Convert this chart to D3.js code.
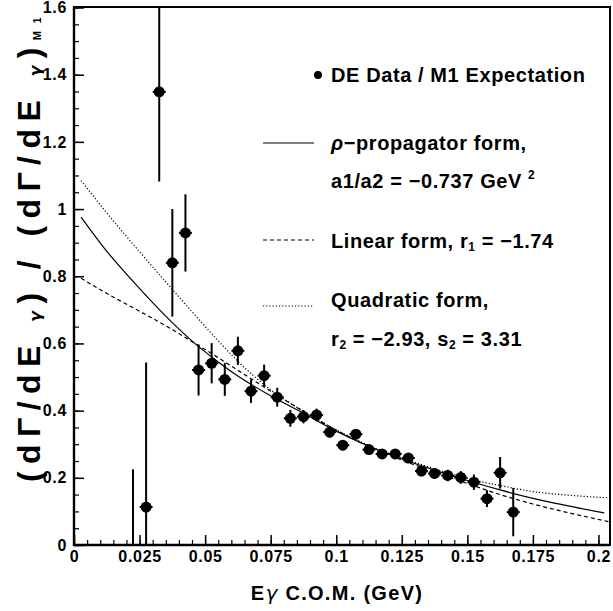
<!DOCTYPE html>
<html><head><meta charset="utf-8">
<script src="https://cdn.jsdelivr.net/npm/d3@7"></script>
<style>body{margin:0;background:#fff}svg{display:block}</style>
</head><body>
<svg id="c" width="613" height="611"></svg>
<script>
// ---- data ----
const binCenters = [0.0225,0.0275,0.0325,0.0375,0.0425,0.0475,0.0525,0.0575,0.0625,0.0675,
  0.0725,0.0775,0.0825,0.0875,0.0925,0.0975,0.1025,0.1075,0.1125,0.1175,
  0.1225,0.1275,0.1325,0.1375,0.1425,0.1475,0.1525,0.1575,0.1625,0.1675];
const ratio = [-0.05,0.113,1.349,0.840,0.929,0.521,0.541,0.493,0.578,0.458,
  0.504,0.440,0.377,0.382,0.387,0.336,0.297,0.330,0.284,0.271,
  0.271,0.259,0.220,0.213,0.207,0.201,0.187,0.138,0.215,0.098];
const ratioErr = [0.275,0.430,0.267,0.160,0.115,0.076,0.060,0.049,0.042,0.035,
  0.033,0.028,0.025,0.020,0.019,0.016,0.015,0.015,0.014,0.013,
  0.014,0.015,0.015,0.016,0.017,0.019,0.023,0.025,0.047,0.072];

const rhoX = [0.0027,0.0113,0.024,0.0367,0.0455,0.0545,0.0625,0.075,0.0875,0.1,0.1125,0.125,0.1375,0.15,0.1625,0.175,0.1875,0.2022];
const rhoY = [0.976,0.886,0.772,0.668,0.604,0.548,0.503,0.444,0.392,0.339,0.294,0.256,0.223,0.192,0.164,0.139,0.118,0.0954];
const linX = [0.0027,0.0113,0.024,0.0367,0.0455,0.0545,0.0625,0.075,0.0875,0.1,0.1125,0.125,0.1375,0.15,0.1625,0.175,0.1875,0.2044];
const linY = [0.794,0.754,0.700,0.645,0.603,0.560,0.520,0.458,0.398,0.342,0.293,0.253,0.217,0.183,0.150,0.122,0.098,0.0686];
const quadX = [0.0027,0.0113,0.024,0.0367,0.0455,0.0545,0.0625,0.075,0.0875,0.1,0.1125,0.125,0.1375,0.15,0.1625,0.175,0.1875,0.2044];
const quadY = [1.085,1.000,0.882,0.768,0.690,0.612,0.547,0.462,0.398,0.343,0.296,0.259,0.227,0.198,0.177,0.159,0.149,0.140];

const xTickLabels = ["0","0.025","0.05","0.075","0.1","0.125","0.15","0.175","0.2"];
const yTickLabels = ["0","0.2","0.4","0.6","0.8","1","1.2","1.4","1.6"];

// ---- drawing ----
const svg = d3.select("#c");
const FONT = "'Liberation Sans', Arial, sans-serif";
const GREEK = "'DejaVu Sans', sans-serif";
const L = 74, R = 610, T = 7.5, B = 545;
const x = d3.scaleLinear().domain([0, 0.2044]).range([L, R]);
const y = d3.scaleLinear().domain([0, 1.6]).range([B, T]);

svg.append("defs").append("clipPath").attr("id","plot")
  .append("rect").attr("x",L).attr("y",T-0.5).attr("width",R-L).attr("height",B-T+0.5);

// frame
svg.append("rect").attr("x",L).attr("y",7).attr("width",R-L).attr("height",B-7)
  .attr("fill","none").attr("stroke","#000").attr("stroke-width",2);

// axes with inward ticks
const xMinor = d3.range(0, 0.2044, 0.005);
const yMinor = d3.range(0, 1.6001, 0.05);
const xMajor = xTickLabels.map(Number);
const yMajor = yTickLabels.map(Number);

const gx = svg.append("g").attr("transform",`translate(0,${B})`);
gx.call(d3.axisBottom(x).tickValues(xMinor).tickSize(-5).tickFormat(""));
gx.call(g=>g.select(".domain").remove());
gx.selectAll("line").attr("stroke-width",1.2);
const gx2 = svg.append("g").attr("transform",`translate(0,${B})`);
gx2.call(d3.axisBottom(x).tickValues(xMajor).tickSize(-10).tickPadding(6)
  .tickFormat((d,i)=>xTickLabels[i]));
gx2.select(".domain").remove();
gx2.selectAll("line").attr("stroke-width",1.5);
gx2.selectAll("text").attr("font-family",FONT).attr("font-weight","bold")
  .attr("font-size",16).attr("letter-spacing","0.7px").attr("fill","#000");

const gy = svg.append("g").attr("transform",`translate(${L},0)`);
gy.call(d3.axisLeft(y).tickValues(yMinor).tickSize(-5).tickFormat(""));
gy.select(".domain").remove();
gy.selectAll("line").attr("stroke-width",1.2);
const gy2 = svg.append("g").attr("transform",`translate(${L},0)`);
gy2.call(d3.axisLeft(y).tickValues(yMajor).tickSize(-10).tickPadding(7)
  .tickFormat((d,i)=>yTickLabels[i]));
gy2.select(".domain").remove();
gy2.selectAll("line").attr("stroke-width",1.5);
gy2.selectAll("text").attr("font-family",FONT).attr("font-weight","bold")
  .attr("font-size",16).attr("letter-spacing","0.7px").attr("fill","#000");

// thicker left and bottom axis lines
svg.append("line").attr("x1",L).attr("x2",L).attr("y1",7).attr("y2",B+1).attr("stroke","#000").attr("stroke-width",2.4);
svg.append("line").attr("x1",L-1).attr("x2",R).attr("y1",B).attr("y2",B).attr("stroke","#000").attr("stroke-width",2.4);

// curves
const plot = svg.append("g").attr("clip-path","url(#plot)");
const line = d3.line().x(d=>x(d[0])).y(d=>y(d[1])).curve(d3.curveMonotoneX);
const curves = [
  {xs:rhoX, ys:rhoY, dash:null},
  {xs:linX, ys:linY, dash:"4,3"},
  {xs:quadX, ys:quadY, dash:"1.2,2"}
];
curves.forEach(c=>{
  plot.append("path").datum(d3.zip(c.xs,c.ys)).attr("d",line)
    .attr("fill","none").attr("stroke","#000").attr("stroke-width",1.2)
    .attr("stroke-dasharray",c.dash);
});

// data points
const pts = d3.zip(binCenters, ratio, ratioErr);
plot.selectAll("line.err").data(pts).join("line").attr("class","err")
  .attr("x1",d=>x(d[0])).attr("x2",d=>x(d[0]))
  .attr("y1",d=>y(d[1]-d[2])).attr("y2",d=>y(d[1]+d[2]))
  .attr("stroke","#000").attr("stroke-width",2);
plot.selectAll("line.hx").data(pts).join("line").attr("class","hx")
  .attr("x1",d=>x(d[0])-6.5).attr("x2",d=>x(d[0])+6.5)
  .attr("y1",d=>y(d[1])).attr("y2",d=>y(d[1]))
  .attr("stroke","#000").attr("stroke-width",2);
plot.selectAll("circle.pt").data(pts).join("circle").attr("class","pt")
  .attr("cx",d=>x(d[0])).attr("cy",d=>y(d[1])).attr("r",5.5).attr("fill","#000");

// legend
const lg = svg.append("g").attr("font-family",FONT).attr("font-weight","bold")
  .attr("font-size",20).attr("letter-spacing","0.6px").attr("fill","#000");
lg.append("circle").attr("cx",318).attr("cy",75).attr("r",4).attr("fill","#000");
lg.append("text").attr("x",331).attr("y",82).text("DE Data / M1 Expectation");
lg.append("line").attr("x1",263).attr("x2",314).attr("y1",143).attr("y2",143).attr("stroke","#000").attr("stroke-width",1.2);
const t1 = lg.append("text").attr("x",331).attr("y",150);
t1.append("tspan").attr("font-style","italic").text("ρ");
t1.append("tspan").text("−propagator form,");
const t2 = lg.append("text").attr("x",331).attr("y",188);
t2.append("tspan").text("a1/a2 = −0.737 GeV ");
t2.append("tspan").attr("font-size",12).attr("dy",-9).text("2");
lg.append("line").attr("x1",263).attr("x2",314).attr("y1",240).attr("y2",240).attr("stroke","#000").attr("stroke-width",1.2).attr("stroke-dasharray","4,3");
const t3 = lg.append("text").attr("x",331).attr("y",248);
t3.append("tspan").text("Linear form, r");
t3.append("tspan").attr("font-size",12).attr("dy",3).text("1");
t3.append("tspan").attr("dy",-3).text(" = −1.74");
lg.append("line").attr("x1",263).attr("x2",314).attr("y1",306).attr("y2",306).attr("stroke","#000").attr("stroke-width",1.2).attr("stroke-dasharray","1.2,2");
lg.append("text").attr("x",331).attr("y",307).text("Quadratic form,");
const t4 = lg.append("text").attr("x",331).attr("y",346);
t4.append("tspan").text("r");
t4.append("tspan").attr("font-size",12).attr("dy",3).text("2");
t4.append("tspan").attr("dy",-3).text(" = −2.93, s");
t4.append("tspan").attr("font-size",12).attr("dy",3).text("2");
t4.append("tspan").attr("dy",-3).text(" = 3.31");

// axis titles
const xl = svg.append("text").attr("x",337).attr("y",600).attr("text-anchor","middle")
  .attr("font-family",FONT).attr("font-weight","bold").attr("font-size",20)
  .attr("letter-spacing","1.3px");
xl.append("tspan").text("E");
xl.append("tspan").attr("font-family",GREEK).attr("font-style","italic").attr("font-weight","normal").text("γ");
xl.append("tspan").text(" C.O.M. (GeV)");

const yl = svg.append("text").attr("transform","translate(40,246) rotate(-90)")
  .attr("text-anchor","middle").attr("font-family",FONT).attr("font-weight","bold")
  .attr("font-size",32);
yl.append("tspan").text("(dΓ/dE ");
yl.append("tspan").attr("font-size",16).attr("dy",1).attr("font-family",GREEK).attr("font-style","italic").text("γ");
yl.append("tspan").attr("dy",-1).text(") / (dΓ/dE ");
yl.append("tspan").attr("font-size",16).attr("dy",1).attr("font-family",GREEK).attr("font-style","italic").text("γ");
yl.append("tspan").attr("dy",-1).text(")");
yl.append("tspan").attr("font-size",11).attr("dy",1).text("M1");
// spread the title to the span it covers in the reference
const want = 472, nChars = yl.text().length;
const have = yl.node().getComputedTextLength();
yl.attr("letter-spacing", Math.max(0,(want-have)/nChars)+"px");
</script>
</body></html>
